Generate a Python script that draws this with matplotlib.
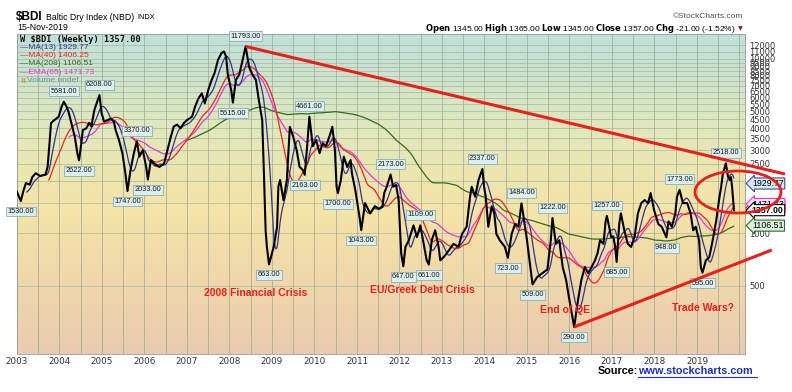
import numpy as np
import pandas as pd
import matplotlib
matplotlib.use('Agg')
import matplotlib.pyplot as plt
import matplotlib.patches as mpatches
from matplotlib.colors import LinearSegmentedColormap

# ── Weekly BDI (decimal year, close) ─────────────────────────────────────────
DATES = [
    2003.00, 2003.09, 2003.15, 2003.21, 2003.30, 2003.36, 2003.44, 2003.55, 2003.67, 2003.72,
    2003.77, 2003.80, 2003.88, 2003.98, 2004.05, 2004.10, 2004.17, 2004.21, 2004.28, 2004.36,
    2004.42, 2004.46, 2004.50, 2004.55, 2004.63, 2004.70, 2004.75, 2004.82, 2004.90, 2004.94,
    2004.99, 2005.05, 2005.13, 2005.21, 2005.28, 2005.32, 2005.40, 2005.48, 2005.55, 2005.60,
    2005.67, 2005.75, 2005.82, 2005.88, 2005.96, 2006.04, 2006.08, 2006.15, 2006.23, 2006.35,
    2006.46, 2006.54, 2006.62, 2006.69, 2006.77, 2006.85, 2006.93, 2007.00, 2007.12, 2007.19,
    2007.27, 2007.35, 2007.42, 2007.50, 2007.58, 2007.65, 2007.73, 2007.81, 2007.87, 2007.92,
    2007.96, 2008.04, 2008.08, 2008.15, 2008.23, 2008.31, 2008.38, 2008.46, 2008.54, 2008.62,
    2008.69, 2008.77, 2008.81, 2008.85, 2008.88, 2008.93, 2009.04, 2009.12, 2009.15, 2009.19,
    2009.27, 2009.35, 2009.42, 2009.50, 2009.58, 2009.65, 2009.73, 2009.77, 2009.82, 2009.88,
    2009.96, 2010.04, 2010.12, 2010.19, 2010.27, 2010.35, 2010.42, 2010.48, 2010.52, 2010.55,
    2010.62, 2010.69, 2010.77, 2010.85, 2010.88, 2010.96, 2011.06, 2011.10, 2011.19, 2011.31,
    2011.42, 2011.52, 2011.60, 2011.64, 2011.70, 2011.79, 2011.85, 2011.92, 2011.98, 2012.04,
    2012.09, 2012.14, 2012.22, 2012.33, 2012.41, 2012.49, 2012.57, 2012.64, 2012.69, 2012.76,
    2012.84, 2012.92, 2012.96, 2013.04, 2013.15, 2013.27, 2013.39, 2013.47, 2013.58, 2013.66,
    2013.70, 2013.78, 2013.86, 2013.95, 2013.99, 2014.03, 2014.09, 2014.17, 2014.23, 2014.28,
    2014.36, 2014.48, 2014.55, 2014.64, 2014.72, 2014.80, 2014.87, 2014.92, 2015.00, 2015.08,
    2015.13, 2015.24, 2015.36, 2015.48, 2015.56, 2015.60, 2015.68, 2015.76, 2015.84, 2015.92,
    2016.00, 2016.11, 2016.20, 2016.28, 2016.36, 2016.44, 2016.52, 2016.60, 2016.66, 2016.72,
    2016.80, 2016.85, 2016.88, 2016.93, 2016.98, 2017.03, 2017.07, 2017.11, 2017.17, 2017.21,
    2017.29, 2017.37, 2017.45, 2017.53, 2017.61, 2017.69, 2017.77, 2017.85, 2017.91, 2017.99,
    2018.09, 2018.17, 2018.28, 2018.33, 2018.41, 2018.49, 2018.53, 2018.59, 2018.67, 2018.77,
    2018.85, 2018.91, 2018.97, 2019.05, 2019.09, 2019.13, 2019.21, 2019.29, 2019.37, 2019.45,
    2019.53, 2019.57, 2019.61, 2019.68, 2019.73, 2019.77, 2019.80, 2019.83, 2019.87,
]
VALUES = [
    1727, 1530, 1750, 1940, 1900, 2100, 2210, 2130, 2170, 2400,
    3400, 4290, 4460, 4660, 5320, 5681, 5300, 5000, 4290, 3580,
    2880, 2622, 3100, 3910, 4000, 4300, 4100, 5090, 5810, 6208,
    4890, 4360, 4460, 4550, 4360, 3910, 3420, 2880, 2210, 1747,
    2300, 2880, 3370, 2750, 3000, 2400, 2033, 2630, 2510, 2400,
    2510, 3000, 3580, 4100, 4200, 4000, 4300, 4460, 4660, 5320,
    5940, 6350, 5560, 6640, 7570, 8320, 9870, 10790, 11039, 10300,
    8130, 6640, 5615, 7570, 8130, 9870, 11793, 9000, 8130, 7600,
    5810, 4460, 2210, 1040, 835, 663, 835, 1090, 1850, 2020,
    1550, 2020, 4080, 3580, 3000, 2400, 2300, 2163, 3000, 4661,
    3160, 3420, 2880, 3290, 3160, 3580, 4080, 3000, 1850, 1700,
    2020, 2750, 2400, 2630, 2210, 1770, 1240, 1043, 1490, 1300,
    1430, 1380, 1430, 1700, 1850, 2173, 1850, 1890, 1550, 767,
    647, 835, 912, 1110, 950, 1109, 870, 700, 661, 912,
    1040, 835, 700, 730, 790, 870, 835, 990, 1090, 1620,
    1850, 1620, 2020, 2337, 1850, 1620, 1090, 1430, 1300, 990,
    912, 835, 723, 990, 1130, 1090, 1484, 1240, 912, 640,
    509, 561, 590, 620, 912, 1222, 870, 912, 640, 540,
    412, 290, 412, 540, 640, 590, 640, 700, 767, 912,
    870, 1170, 1257, 1100, 950, 960, 850, 685, 1130, 1300,
    1040, 870, 835, 950, 1300, 1490, 1550, 1490, 1700, 1360,
    1130, 1090, 948, 1170, 1090, 1300, 1620, 1773, 1490, 1490,
    1300, 1040, 1090, 912, 640, 595, 700, 730, 912, 1170,
    1620, 1850, 2210, 2518, 2110, 2020, 2100, 1800, 1357,
]

# labelled highs / lows: (date, value, +1 above / -1 below)
EXTREMES = [
    (2003.09, 1530, -1), (2004.10, 5681, 1), (2004.46, 2622, -1), (2004.94, 6208, 1),
    (2005.60, 1747, -1), (2005.82, 3370, 1), (2006.08, 2033, -1), (2008.08, 5615, -1),
    (2008.38, 11793, 1), (2008.93, 663, -1), (2009.77, 2163, -1), (2009.88, 4661, 1),
    (2010.55, 1700, -1), (2011.10, 1043, -1), (2011.79, 2173, 1), (2012.09, 647, -1),
    (2012.49, 1109, 1), (2012.69, 661, -1), (2013.95, 2337, 1), (2014.55, 723, -1),
    (2014.87, 1484, 1), (2015.13, 509, -1), (2015.60, 1222, 1), (2016.11, 290, -1),
    (2016.88, 1257, 1), (2017.11, 685, -1), (2018.28, 948, -1), (2018.59, 1773, 1),
    (2019.13, 595, -1), (2019.68, 2518, 1),
]

LAST = {'MA13': 1929.77, 'MA40': 1406.25, 'MA208': 1106.51, 'EMA65': 1471.73, 'CLOSE': 1357.00}

YTICKS = [500, 1000, 1500, 2000, 2500, 3000, 3500, 4000, 4500, 5000, 5500, 6000,
          6500, 7000, 7500, 8000, 8500, 9000, 9500, 10000, 11000, 12000]
HIDDEN_YLABELS = [1500, 2000]          # covered by the last-value tags in the original
YEARS = list(range(2003, 2020))

C_MA13, C_MA40, C_MA208, C_EMA = '#33338f', '#e8291c', '#2f6e22', '#e03ad8'
RED = '#e8201a'

# ── Moving averages on a weekly grid ─────────────────────────────────────────
t = np.array(DATES)
p = np.array(VALUES, dtype=float)
tw = np.arange(t[0], t[-1] + 1e-9, 7 / 365.25)
pw = pd.Series(np.interp(tw, t, p))
ma13 = pw.rolling(13).mean()
ma40 = pw.rolling(40).mean()
ma208 = pw.rolling(208).mean()
ema65 = pw.ewm(span=65, adjust=False).mean()
ema65[:64] = np.nan

# ── Figure ───────────────────────────────────────────────────────────────────
W, H = 792, 392
fig = plt.figure(figsize=(7.92, 3.92), dpi=100)
fig.patch.set_facecolor('white')
ax = fig.add_axes([17 / W, 1 - 354 / H, (745 - 17) / W, (354 - 34) / H])

def fx(px):
    return px / W

def fy(py):
    return 1 - py / H

# gradient background
cmap = LinearSegmentedColormap.from_list(
    'bg', [(0.0, '#bfe0da'), (0.3, '#e2e8bb'), (0.55, '#f5e4a6'), (1.0, '#eacbb0')])
ax.imshow(np.linspace(0, 1, 256).reshape(-1, 1), cmap=cmap, aspect='auto',
          extent=[0, 1, 0, 1], transform=ax.transAxes, zorder=0)

ax.set_yscale('log')
ax.set_xlim(2003.0, 2020.13)
ax.set_ylim(203, 13900)

# grid
for v in YTICKS:
    ax.axhline(v, color='#a3b8a6', lw=0.5, zorder=1)
for yr in np.arange(2003.0, 2020.01, 0.5):
    ax.axvline(yr, color='#a3aa9c', lw=0.55, zorder=1)

# series
ax.plot(tw, ma208, color=C_MA208, lw=0.9, zorder=3)
ax.plot(tw, ema65, color=C_EMA, lw=0.9, zorder=3)
ax.plot(tw, ma40, color=C_MA40, lw=0.9, zorder=3)
ax.plot(tw, ma13, color=C_MA13, lw=0.9, zorder=3)
ax.plot(t, p, color='black', lw=1.5, zorder=4)

# axes styling
ax.yaxis.tick_right()
ax.set_yticks(YTICKS)
ax.set_yticklabels(['' if v in HIDDEN_YLABELS else str(v) for v in YTICKS])
ax.yaxis.set_minor_locator(matplotlib.ticker.NullLocator())
ax.set_xticks(YEARS)
ax.set_xticklabels([str(y) for y in YEARS])
ax.tick_params(axis='y', length=0, pad=3, labelsize=6, labelcolor='#333333')
ax.tick_params(axis='x', length=0, pad=2, labelsize=6.3, labelcolor='#333333')
for s in ax.spines.values():
    s.set_color('#9a9a9a')
    s.set_linewidth(0.6)

# high / low value tags
for d, v, side in EXTREMES:
    ax.annotate(f'{v:.2f}', xy=(d, v), xytext=(0, 5 * side), textcoords='offset points',
                ha='center', va='bottom' if side > 0 else 'top',
                fontsize=5.3, family='Liberation Sans', color='#1a1a1a', zorder=6,
                annotation_clip=False,
                bbox=dict(boxstyle='square,pad=0.2', fc='#dcefee', ec='#8ab0b5', lw=0.6))

# trend lines (from 2008 high and from 2016 low), extending past the plot edge
ax.plot([2008.38, 2021.07], [11793, 2187], color=RED, lw=2.2, clip_on=False, zorder=7,
        solid_capstyle='butt')
ax.plot([2016.11, 2020.76], [290, 802], color=RED, lw=2.2, clip_on=False, zorder=7,
        solid_capstyle='butt')

# circle around 2019 top
fig.patches.append(mpatches.Ellipse((fx(738), fy(192)), 86 / W, 42 / H, fill=False,
                                    ec=RED, lw=2.0, transform=fig.transFigure, zorder=8))

# red notes
for d, v, txt in [(2008.61, 455, '2008 Financial Crisis'),
                  (2012.53, 470, 'EU/Greek Debt Crisis'),
                  (2015.89, 363, 'End of QE'),
                  (2019.14, 373, 'Trade Wars?')]:
    ax.text(d, v, txt, ha='center', va='center', fontsize=7.5, fontweight='bold',
            family='Liberation Sans', color=RED, zorder=6)

# last-value tags on the right
for v, txt, ec, fc, fw in [(LAST['MA13'], '1929.77', '#3c4d9a', '#d6e9f2', 'normal'),
                           (LAST['MA40'], '1406.25', C_MA40, '#fbe3e0', 'normal'),
                           (LAST['EMA65'], '1471.73', C_EMA, '#f7e0f6', 'normal'),
                           (LAST['CLOSE'], '1357.00', 'black', 'white', 'bold'),
                           (LAST['MA208'], '1106.51', C_MA208, '#dcefdc', 'normal')]:
    ax.annotate(txt, xy=(1.0, v), xycoords=('axes fraction', 'data'), xytext=(5, 0),
                textcoords='offset points', ha='left', va='center', fontsize=6.3,
                family='Liberation Sans', fontweight=fw, annotation_clip=False, zorder=9,
                bbox=dict(boxstyle='larrow,pad=0.12', fc=fc, ec=ec, lw=0.8))

# legend block (top-left inside plot)
fig.text(fx(20), fy(39), 'W $BDI (Weekly) 1357.00', ha='left', va='center',
         fontsize=6.2, family='DejaVu Sans Mono', fontweight='bold', color='#111111', zorder=6)
leg = [('\u2014MA(13) 1929.77', C_MA13), ('\u2014MA(40) 1406.25', C_MA40),
       ('\u2014MA(208) 1106.51', C_MA208), ('\u2014EMA(65) 1471.73', C_EMA)]
for i, (txt, col) in enumerate(leg):
    fig.text(fx(20), fy(47.5 + 8.2 * i), txt, ha='left', va='center', fontsize=6,
             family='Liberation Sans', color=col)
fig.text(fx(20), fy(80.5), '\u0131\u0131', ha='left', va='center', fontsize=6,
         color='#c8a05a', fontweight='bold')
fig.text(fx(27), fy(80.5), 'Volume undef', ha='left', va='center', fontsize=6,
         family='Liberation Sans', color='#5f93a0')

# header
fig.text(fx(16), fy(17), '$BDI', ha='left', va='center', fontsize=8.5, fontweight='bold',
         family='Liberation Sans')
fig.text(fx(46), fy(17), 'Baltic Dry Index (NBD)', ha='left', va='center', fontsize=6.3,
         family='Liberation Sans')
fig.text(fx(137), fy(17.5), 'INDX', ha='left', va='center', fontsize=5.3,
         family='Liberation Sans')
fig.text(fx(17), fy(27.5), '15-Nov-2019', ha='left', va='center', fontsize=6.3,
         family='Liberation Sans')
fig.text(fx(743), fy(17), '\u00a9StockCharts.com', ha='right', va='center', fontsize=6,
         family='Liberation Sans', color='#555555')
fig.text(fx(736), fy(28.5),
         r'$\mathbf{Open}$ 1345.00 $\mathbf{High}$ 1365.00 $\mathbf{Low}$ 1345.00 '
         r'$\mathbf{Close}$ 1357.00 $\mathbf{Chg}$ -21.00 (-1.52%)',
         ha='right', va='center', fontsize=6.0, family='Liberation Sans')
fig.text(fx(738), fy(28.5), '\u25bc', ha='left', va='center', fontsize=4.5, color='#8b1a3a')

# source
fig.text(fx(598), fy(371), 'Source:', ha='left', va='center', fontsize=7.8, fontweight='bold',
         family='Liberation Sans', color='black')
fig.text(fx(638), fy(371), 'www.stockcharts.com', ha='left', va='center', fontsize=7.8,
         fontweight='bold', family='Liberation Sans', color='#1f2fb8')
fig.add_artist(matplotlib.lines.Line2D([fx(638), fx(757)], [fy(377), fy(377)],
                                       color='#1f2fb8', lw=0.8))

fig.savefig('out.png', dpi=100)
